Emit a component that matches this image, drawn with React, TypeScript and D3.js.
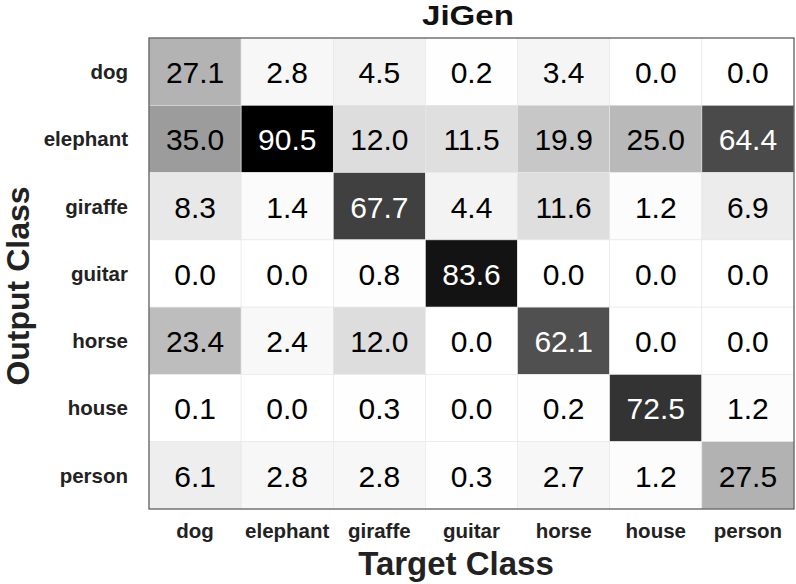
import { useEffect, useRef } from "react";
import * as d3 from "d3";

const classes = ["dog", "elephant", "giraffe", "guitar", "horse", "house", "person"];

// rows = output class, columns = target class
const dogRow = [27.1, 2.8, 4.5, 0.2, 3.4, 0.0, 0.0];
const elephantRow = [35.0, 90.5, 12.0, 11.5, 19.9, 25.0, 64.4];
const giraffeRow = [8.3, 1.4, 67.7, 4.4, 11.6, 1.2, 6.9];
const guitarRow = [0.0, 0.0, 0.8, 83.6, 0.0, 0.0, 0.0];
const horseRow = [23.4, 2.4, 12.0, 0.0, 62.1, 0.0, 0.0];
const houseRow = [0.1, 0.0, 0.3, 0.0, 0.2, 72.5, 1.2];
const personRow = [6.1, 2.8, 2.8, 0.3, 2.7, 1.2, 27.5];

const rows = [dogRow, elephantRow, giraffeRow, guitarRow, horseRow, houseRow, personRow];

const App = () => {
  const svgRef = useRef<SVGSVGElement>(null);

  useEffect(() => {
    const width = 796;
    const height = 584;
    const margin = { top: 38, right: 2, bottom: 75, left: 149 };
    const font = "'Liberation Sans', Arial, Helvetica, sans-serif";

    const svg = d3.select(svgRef.current);
    svg.selectAll("*").remove();
    svg.attr("width", width).attr("height", height).attr("viewBox", [0, 0, width, height])
      .style("display", "block").style("font-family", font);

    svg.append("rect").attr("width", width).attr("height", height).attr("fill", "white");

    const x = d3.scaleBand().domain(classes).range([margin.left, width - margin.right]);
    const y = d3.scaleBand().domain(classes).range([margin.top, height - margin.bottom]);

    const maxVal = d3.max(rows.flat()) as number;
    const color = d3.scaleLinear<string>().domain([0, maxVal]).range(["#ffffff", "#000000"]);

    const cells = rows.flatMap((r, i) => r.map((v, j) => ({ row: classes[i], col: classes[j], v })));

    const g = svg.append("g");
    g.selectAll("rect.cell")
      .data(cells)
      .join("rect")
      .attr("class", "cell")
      .attr("x", (d) => x(d.col)!)
      .attr("y", (d) => y(d.row)!)
      .attr("width", x.bandwidth())
      .attr("height", y.bandwidth())
      .attr("fill", (d) => color(d.v))
      .attr("stroke", "#e6e6e6")
      .attr("stroke-width", 0.6);

    g.selectAll("text.val")
      .data(cells)
      .join("text")
      .attr("class", "val")
      .attr("x", (d) => x(d.col)! + x.bandwidth() / 2)
      .attr("y", (d) => y(d.row)! + y.bandwidth() / 2)
      .attr("dy", "0.38em")
      .attr("text-anchor", "middle")
      .attr("font-size", 30)
      .attr("fill", (d) => (d.v > 50 ? "white" : "black"))
      .text((d) => d.v.toFixed(1));

    // frame
    svg.append("rect")
      .attr("x", margin.left)
      .attr("y", margin.top)
      .attr("width", width - margin.right - margin.left)
      .attr("height", height - margin.bottom - margin.top)
      .attr("fill", "none")
      .attr("stroke", "#555")
      .attr("stroke-width", 1.2);

    // row labels
    svg.append("g")
      .selectAll("text")
      .data(classes)
      .join("text")
      .attr("x", margin.left - 21)
      .attr("y", (d) => y(d)! + y.bandwidth() / 2)
      .attr("dy", "0.36em")
      .attr("text-anchor", "end")
      .attr("font-size", 20.5)
      .attr("font-weight", "bold")
      .attr("fill", "#222")
      .text((d) => d);

    // column labels
    svg.append("g")
      .selectAll("text")
      .data(classes)
      .join("text")
      .attr("x", (d) => x(d)! + x.bandwidth() / 2)
      .attr("y", 538)
      .attr("text-anchor", "middle")
      .attr("font-size", 20.5)
      .attr("font-weight", "bold")
      .attr("fill", "#222")
      .text((d) => d);

    svg.append("text")
      .attr("x", 456)
      .attr("y", 575)
      .attr("text-anchor", "middle")
      .attr("font-size", 33)
      .attr("font-weight", "bold")
      .attr("fill", "#222")
      .text("Target Class");

    svg.append("text")
      .attr("transform", `translate(29, 286) rotate(-90)`)
      .attr("text-anchor", "middle")
      .attr("font-size", 32)
      .attr("font-weight", "bold")
      .attr("fill", "#222")
      .text("Output Class");

    svg.append("text")
      .attr("x", 468)
      .attr("y", 25)
      .attr("text-anchor", "middle")
      .attr("font-size", 28)
      .attr("font-weight", "bold")
      .attr("fill", "#111")
      .attr("textLength", 92)
      .attr("lengthAdjust", "spacingAndGlyphs")
      .text("JiGen");
  }, []);

  return <svg ref={svgRef} style={{ position: "absolute", left: 0, top: 0 }}></svg>;
};

export default App;
